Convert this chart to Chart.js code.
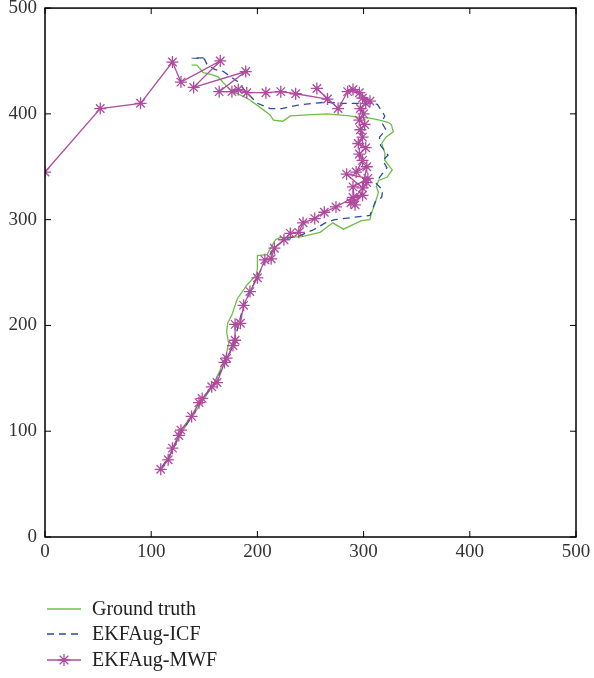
<!DOCTYPE html>
<html>
<head>
<meta charset="utf-8">
<script src="https://cdn.jsdelivr.net/npm/chart.js@4"></script>
<style>
  html, body { margin: 0; padding: 0; background: #fff; }
  #wrap { width: 594px; height: 678px; }
</style>
</head>
<body>
<div id="wrap"><canvas id="traj" width="594" height="678"></canvas></div>
<script>
// axis ticks
var tickValues = [0, 100, 200, 300, 400, 500];
var labels = ['Ground truth', 'EKFAug-ICF', 'EKFAug-MWF'];

// trajectories as [x, y]
var groundTruth = [
  [112,68],[120,82],[128,98],[138,113],[148,128],[158,143],[165,158],[170,170],[173,183],
  [171,194],[172,202],[176,210],[181,225],[190,238],[199,248],[200,254],[200,266],[209,267],
  [217,281],[221,283],[242,284],[259,288],[271,297],[281,291],[298,299],[306,300],[307,305],
  [311,316],[314,326],[312,331],[314,337],[322,340],[327,347],[320,356],[320,363],[317,372],
  [321,378],[328,383],[326,390],[323,392],[315,394],[306,396],[294,397],[287,398],[265,400],
  [248,399],[231,398],[224,393],[215,394],[212,399],[200,408],[190,415],[177,421],[171,426],
  [163,435],[157,437],[149,439],[143,446],[138,446]
];
var ekfIcf = [
  [110,66],[118,78],[126,95],[138,114],[148,130],[160,146],[170,165],[178,183],[182,200],
  [186,215],[193,232],[200,246],[208,262],[216,273],[226,282],[240,285],[252,290],[264,297],
  [273,300],[289,302],[298,303],[306,304],[311,317],[317,321],[318,328],[312,334],[315,340],
  [322,349],[318,356],[323,361],[316,370],[315,378],[321,385],[317,392],[320,398],[313,409],
  [300,410],[281,410],[265,411],[252,410],[237,408],[223,405],[212,405],[200,410],[190,420],
  [182,430],[168,440],[160,442],[153,446],[150,452],[138,453],[153,453]
];
var ekfMwf = [
  [109,64],[116,73],[120,84],[126,96],[128,101],[138,114],[145,127],[148,131],[157,142],
  [162,146],[169,165],[171,169],[177,181],[179,186],[179,201],[184,202],[187,219],[193,232],
  [200,245],[207,262],[213,263],[216,273],[225,281],[231,287],[239,288],[243,297],[254,301],
  [263,307],[274,312],[290,321],[299,323],[288,316],[303,335],[292,314],[290,331],[304,339],
  [284,343],[299,330],[303,350],[293,345],[299,356],[296,362],[302,368],[295,372],[299,378],
  [297,385],[301,390],[296,394],[300,400],[297,405],[302,410],[299,415],[306,412],[296,420],
  [290,423],[285,421],[276,405],[256,424],[266,414],[236,419],[222,421],[208,420],[190,420],
  [182,423],[176,421],[164,421],[189,440],[140,425],[165,450],[128,430],[120,449],[90,410],
  [52,405],[0,345]
];

var colors = ['#6dbf45', '#2b4c9c', '#b04a9e'];
var serif = "'Liberation Serif', 'DejaVu Serif', serif";

function toXY(arr) {
  return arr.map(function (p) { return { x: p[0], y: p[1] }; });
}

// box around the plot with inward ticks on every side
var framePlugin = {
  id: 'frame',
  afterDatasetsDraw: function (chart) {
    var ctx = chart.ctx, a = chart.chartArea;
    var xs = chart.scales.x, ys = chart.scales.y;
    ctx.save();
    ctx.strokeStyle = '#000';
    ctx.lineWidth = 1.5;
    ctx.strokeRect(a.left, a.top, a.right - a.left, a.bottom - a.top);
    ctx.lineWidth = 1;
    tickValues.forEach(function (v) {
      var px = xs.getPixelForValue(v), py = ys.getPixelForValue(v);
      ctx.beginPath();
      ctx.moveTo(px, a.bottom); ctx.lineTo(px, a.bottom - 6);
      ctx.moveTo(px, a.top); ctx.lineTo(px, a.top + 6);
      ctx.moveTo(a.left, py); ctx.lineTo(a.left + 6, py);
      ctx.moveTo(a.right, py); ctx.lineTo(a.right - 6, py);
      ctx.stroke();
    });
    ctx.restore();
  }
};

// legend stacked under the plot
var legendPlugin = {
  id: 'stackLegend',
  afterDraw: function (chart) {
    var ctx = chart.ctx;
    var rows = [609, 634, 660];
    ctx.save();
    ctx.font = '20px ' + serif;
    ctx.textBaseline = 'middle';
    chart.data.datasets.forEach(function (ds, i) {
      var y = rows[i];
      ctx.strokeStyle = ds.borderColor;
      ctx.lineWidth = 1.3;
      ctx.setLineDash(ds.borderDash || []);
      ctx.beginPath();
      ctx.moveTo(47, y); ctx.lineTo(81, y);
      ctx.stroke();
      ctx.setLineDash([]);
      if (ds.pointRadius > 0) {
        Chart.helpers.drawPoint(ctx, { pointStyle: 'star', radius: 6, borderWidth: 1.3 }, 64, y);
      }
      ctx.fillStyle = '#222';
      ctx.fillText(ds.label, 92, y + 1);
    });
    ctx.restore();
  }
};

new Chart(document.getElementById('traj'), {
  type: 'scatter',
  data: {
    datasets: [
      {
        label: labels[0],
        data: toXY(groundTruth),
        showLine: true,
        borderColor: colors[0],
        borderWidth: 1.3,
        pointRadius: 0,
        order: 3
      },
      {
        label: labels[1],
        data: toXY(ekfIcf),
        showLine: true,
        borderColor: colors[1],
        borderWidth: 1.3,
        borderDash: [7, 5],
        pointRadius: 0,
        order: 2
      },
      {
        label: labels[2],
        data: toXY(ekfMwf),
        showLine: true,
        borderColor: colors[2],
        backgroundColor: colors[2],
        borderWidth: 1.3,
        pointStyle: 'star',
        pointRadius: 6,
        pointBorderWidth: 1.3,
        order: 1
      }
    ]
  },
  options: {
    responsive: false,
    animation: false,
    maintainAspectRatio: false,
    layout: { padding: { top: 0, right: 18, bottom: 111, left: 0 } },
    plugins: {
      legend: { display: false },
      tooltip: { enabled: false }
    },
    scales: {
      x: {
        type: 'linear',
        min: 0, max: 500,
        // grid hidden; tickLength only pushes the labels down
        grid: { display: false, drawTicks: true, tickLength: 6 },
        border: { display: false },
        ticks: { stepSize: 100, padding: 0, color: '#333', font: { family: serif, size: 19, lineHeight: 1 } },
        afterFit: function (s) { s.height = 30; }
      },
      y: {
        type: 'linear',
        min: 0, max: 500,
        grid: { display: false, drawTicks: true, tickLength: 8 },
        border: { display: false },
        ticks: { stepSize: 100, padding: 0, color: '#333', font: { family: serif, size: 19, lineHeight: 0.85 } },
        afterFit: function (s) { s.width = 45; }
      }
    }
  },
  plugins: [framePlugin, legendPlugin]
});
</script>
</body>
</html>
